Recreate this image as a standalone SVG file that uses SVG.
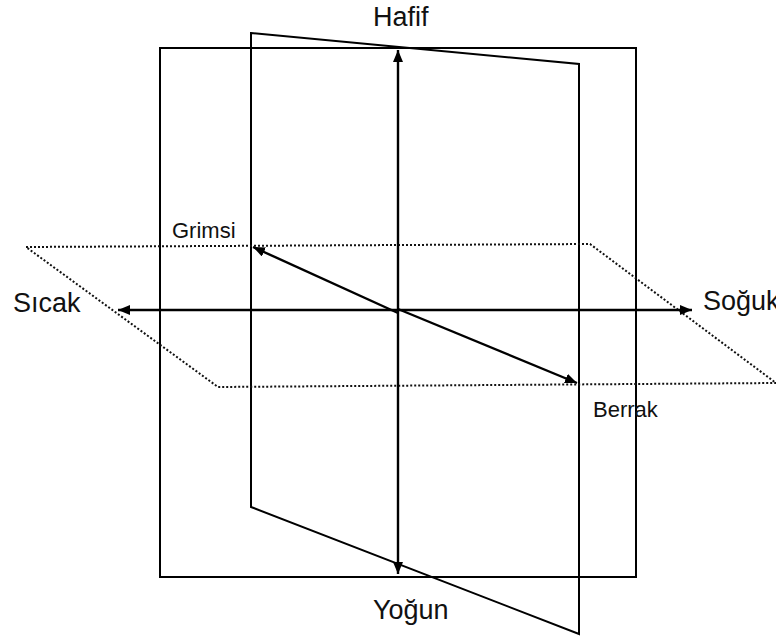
<svg xmlns="http://www.w3.org/2000/svg" width="776" height="642" viewBox="0 0 776 642">
<defs>
<marker id="ah" viewBox="0 0 12 10" refX="12" refY="5" markerWidth="12" markerHeight="10" markerUnits="userSpaceOnUse" orient="auto">
<path d="M0,0 L12,5 L0,10 Z" fill="#000"/>
</marker>
</defs>
<style>
.solid{fill:none;stroke:#000;stroke-width:2}
.dot{fill:none;stroke:#111;stroke-width:2;stroke-dasharray:2 2}
.axis{fill:none;stroke:#000;stroke-width:2.4;marker-end:url(#ah)}
.big{font-family:"Liberation Sans",Arial,sans-serif;font-size:27px;fill:#111}
.small{font-family:"Liberation Sans",Arial,sans-serif;font-size:22px;fill:#111}
</style>
<rect width="776" height="642" fill="#fff"/>
<g id="frame"><rect class="solid" x="160" y="48" width="476" height="529"/></g>
<g id="vertical-plane"><polygon class="solid" points="251,33 579,64 579,634 251,507"/></g>
<g id="horizontal-plane"><polygon class="dot" points="26,247 590,244 776,383 218,387"/></g>
<g id="connectors">
<line class="axis" x1="398" y1="311" x2="398" y2="50"/>
<line class="axis" x1="398" y1="311" x2="398" y2="574"/>
<line class="axis" x1="398" y1="310" x2="118" y2="310"/>
<line class="axis" x1="398" y1="310" x2="692" y2="310"/>
<line class="axis" x1="398" y1="313" x2="253" y2="247"/>
<line class="axis" x1="398" y1="309" x2="577" y2="383"/>
</g>
<g id="label-hafif"><text class="big" x="373" y="26">Hafif</text></g>
<g id="label-yogun"><text class="big" x="373" y="619">Yoğun</text></g>
<g id="label-sicak"><text class="big" x="13" y="312">Sıcak</text></g>
<g id="label-soguk"><text class="big" x="703" y="310">Soğuk</text></g>
<g id="label-grimsi"><text class="small" x="172" y="238">Grimsi</text></g>
<g id="label-berrak"><text class="small" x="593" y="417">Berrak</text></g>
</svg>
